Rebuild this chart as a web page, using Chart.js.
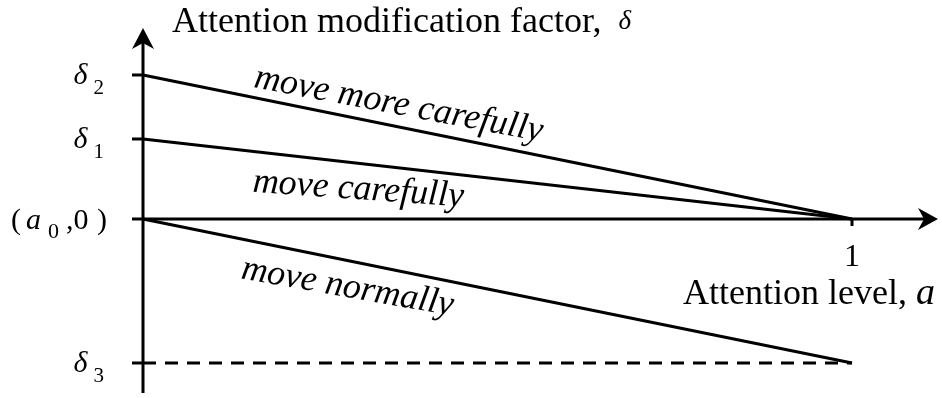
<!DOCTYPE html>
<html>
<head>
<meta charset="utf-8">
<script src="https://cdn.jsdelivr.net/npm/chart.js@4.4.0/dist/chart.umd.min.js"></script>
<style>
  html, body { margin: 0; padding: 0; background: #fff; }
  #wrap { width: 942px; height: 398px; position: relative; }
</style>
</head>
<body>
<div id="wrap"><canvas id="attnChart"></canvas></div>
<script>
// attention level a, from a0 (0) up to 1
var attentionLevels = [0, 1];
// attention modification factor for each behaviour
var moreCarefully = [1.8, 0];
var carefully = [1.0, 0];
var normally = [0, -1.8];
var delta3Guide = [-1.8, -1.8];
// marked values on the delta axis and on the a axis
var deltaTickValues = [1.8, 1.0, 0, -1.8];
var deltaTickLabels = ['δ2', 'δ1', '(a0,0)', 'δ3'];
var levelTickValues = [1];
var levelTickLabels = ['1'];
var behaviourNames = ['move more carefully', 'move carefully', 'move normally'];

var SERIF = "'Liberation Serif', 'Times New Roman', serif";

function toPoints(ys) {
  return attentionLevels.map(function (a, i) { return { x: a, y: ys[i] }; });
}

function lineSet(label, ys, dash) {
  return {
    label: label,
    data: toPoints(ys),
    borderColor: '#000',
    borderWidth: 3,
    borderDash: dash || [],
    pointRadius: 0,
    tension: 0,
    fill: false,
    clip: false
  };
}

// axes with arrow heads, tick marks and all the text
var sketchPlugin = {
  id: 'sketch',
  afterDatasetsDraw: function (chart) {
    var ctx = chart.ctx;
    var xs = chart.scales.x, ys = chart.scales.y;
    var area = chart.chartArea;
    var x0 = xs.getPixelForValue(0);
    var y0 = ys.getPixelForValue(0);

    ctx.save();
    ctx.strokeStyle = '#000';
    ctx.fillStyle = '#000';
    ctx.lineWidth = 3;

    // vertical axis
    ctx.beginPath();
    ctx.moveTo(x0, area.bottom);
    ctx.lineTo(x0, area.top + 12);
    ctx.stroke();
    ctx.beginPath();
    ctx.moveTo(x0, area.top);
    ctx.lineTo(x0 - 11, area.top + 21);
    ctx.lineTo(x0, area.top + 15);
    ctx.lineTo(x0 + 11, area.top + 21);
    ctx.closePath();
    ctx.fill();

    // horizontal axis
    ctx.beginPath();
    ctx.moveTo(x0, y0);
    ctx.lineTo(area.right - 12, y0);
    ctx.stroke();
    ctx.beginPath();
    ctx.moveTo(area.right, y0);
    ctx.lineTo(area.right - 20, y0 - 11);
    ctx.lineTo(area.right - 14, y0);
    ctx.lineTo(area.right - 20, y0 + 11);
    ctx.closePath();
    ctx.fill();

    // tick marks on the delta axis
    deltaTickValues.forEach(function (v) {
      var py = ys.getPixelForValue(v);
      ctx.beginPath();
      ctx.moveTo(x0 - 11, py);
      ctx.lineTo(x0, py);
      ctx.stroke();
    });

    // tick marks and labels on the a axis
    ctx.textAlign = 'center';
    ctx.textBaseline = 'alphabetic';
    ctx.font = '32px ' + SERIF;
    levelTickValues.forEach(function (v, i) {
      var px = xs.getPixelForValue(v);
      ctx.beginPath();
      ctx.moveTo(px, y0);
      ctx.lineTo(px, y0 + 7);
      ctx.stroke();
      ctx.fillText(levelTickLabels[i], px, y0 + 47);
    });

    // delta axis labels, symbol with a lowered index
    ctx.textAlign = 'left';
    deltaTickValues.forEach(function (v, i) {
      var py = ys.getPixelForValue(v);
      var txt = deltaTickLabels[i];
      if (txt.charAt(0) === 'δ') {
        ctx.font = 'italic 30px ' + SERIF;
        var wMain = ctx.measureText('δ').width;
        ctx.font = '21px ' + SERIF;
        var wSub = ctx.measureText(txt.slice(1)).width;
        var left = x0 - 39 - wMain - 6 - wSub;
        ctx.font = 'italic 30px ' + SERIF;
        ctx.fillText('δ', left, py + 9);
        ctx.font = '21px ' + SERIF;
        ctx.fillText(txt.slice(1), left + wMain + 6, py + 19);
      } else {
        // (a0,0)
        var base = py + 10;
        ctx.font = '30px ' + SERIF;
        ctx.fillText('(', 11, base);
        ctx.font = 'italic 30px ' + SERIF;
        ctx.fillText('a', 26, base);
        ctx.font = '22px ' + SERIF;
        ctx.fillText('0', 48, base + 9);
        ctx.font = '30px ' + SERIF;
        ctx.fillText(',0', 66, base);
        ctx.fillText(')', 97, base);
      }
    });

    // axis titles
    ctx.font = '36px ' + SERIF;
    ctx.fillText('Attention modification factor,', 172, 32);
    var tw = ctx.measureText('Attention modification factor, ').width;
    ctx.font = 'italic 27px ' + SERIF;
    ctx.fillText('δ', 172 + tw + 8, 29);

    ctx.font = '36px ' + SERIF;
    ctx.fillText('Attention level,', 683, 304);
    var lw = ctx.measureText('Attention level, ').width;
    ctx.font = 'italic 38px ' + SERIF;
    ctx.fillText('a', 683 + lw, 304);

    // behaviour names written along their lines
    var notes = [
      { a: 0.155, d: 1.65, angle: 10.7 },
      { a: 0.154, d: 0.34, angle: 4.0 },
      { a: 0.137, d: -0.74, angle: 10.0 }
    ];
    ctx.font = 'italic 36px ' + SERIF;
    notes.forEach(function (n, i) {
      ctx.save();
      ctx.translate(xs.getPixelForValue(n.a), ys.getPixelForValue(n.d));
      ctx.rotate(n.angle * Math.PI / 180);
      ctx.fillText(behaviourNames[i], 0, 0);
      ctx.restore();
    });

    ctx.restore();
  }
};

var ctx = document.getElementById('attnChart').getContext('2d');
var attnChart = new Chart(ctx, {
  type: 'line',
  data: {
    datasets: [
      lineSet(behaviourNames[0], moreCarefully),
      lineSet(behaviourNames[1], carefully),
      lineSet(behaviourNames[2], normally),
      lineSet('delta 3', delta3Guide, [13, 9])
    ]
  },
  options: {
    responsive: true,
    maintainAspectRatio: false,
    animation: false,
    layout: { padding: { left: 143, right: 4, top: 28, bottom: 5 } },
    plugins: {
      legend: { display: false },
      tooltip: { enabled: false }
    },
    scales: {
      x: { type: 'linear', min: 0, max: 1.1213, display: false },
      y: { type: 'linear', min: -2.175, max: 2.3875, display: false }
    }
  },
  plugins: [sketchPlugin]
});
</script>
</body>
</html>
